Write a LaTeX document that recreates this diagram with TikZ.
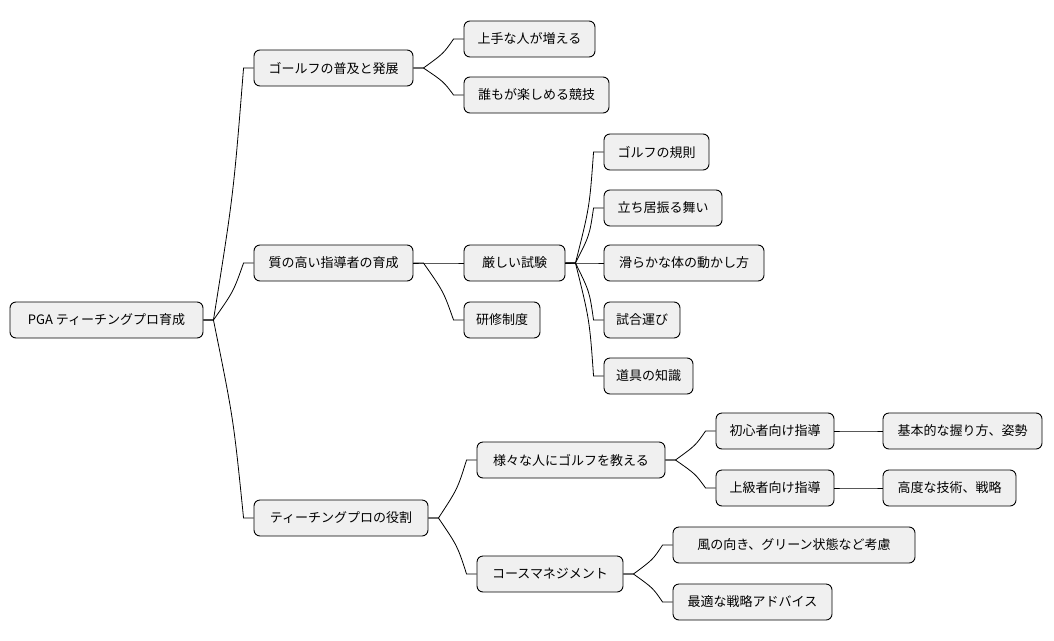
\documentclass[tikz,border=0pt]{standalone}
\usepackage{fontspec}
\setmainfont{Noto Sans CJK JP}
\begin{document}
\begin{tikzpicture}[x=1pt,y=-1pt,
  box/.style={draw=black,line width=0.9pt,fill=black!6,rounded corners=6pt,minimum height=36pt,inner xsep=0pt,font=\fontsize{13}{15}\selectfont,anchor=center},
  con/.style={draw=black,line width=0.8pt}]
\useasboundingbox (0,0) rectangle (1054,640);
\newcommand{\bx}[5]{\node[box,minimum width=#4pt] (#1) at (#2,#3) {#5};}
\bx{r}{106.5}{320}{193}{PGA ティーチングプロ育成}
\bx{a}{333.5}{68}{159}{ゴールフの普及と発展}
\bx{a1}{529.5}{39}{131}{上手な人が増える}
\bx{a2}{536.5}{95}{145}{誰もが楽しめる競技}
\bx{b}{333.5}{263}{159}{質の高い指導者の育成}
\bx{b1}{514.5}{263}{101}{厳しい試験}
\bx{b2}{502}{320}{76}{研修制度}
\bx{c1}{656.5}{152}{105}{ゴルフの規則}
\bx{c2}{663}{208}{118}{立ち居振る舞い}
\bx{c3}{684}{263}{160}{滑らかな体の動かし方}
\bx{c4}{642}{320}{76}{試合運び}
\bx{c5}{648.5}{376}{89}{道具の知識}
\bx{d}{341}{518}{174}{ティーチングプロの役割}
\bx{d1}{571}{460}{188}{様々な人にゴルフを教える}
\bx{d2}{550}{574}{146}{コースマネジメント}
\bx{e1}{775}{431}{118}{初心者向け指導}
\bx{e2}{775}{488}{118}{上級者向け指導}
\bx{f1}{962.5}{431}{159}{基本的な握り方、姿勢}
\bx{f2}{949.5}{488}{133}{高度な技術、戦略}
\bx{g1}{794}{545}{242}{風の向き、グリーン状態など考慮}
\bx{g2}{752.5}{602}{159}{最適な戦略アドバイス}
\newcommand{\cn}[2]{\path (#1.east) coordinate (p) (#2.west) coordinate (q);
  \draw[con] (p) -- ++(10,0) .. controls ($(p)!0.5!(q)+(5,0)$ |- p) and ($(p)!0.5!(q)+(5,0)$ |- q) .. ($(q)+(-10,0)$) -- (q);}
\usetikzlibrary{calc}
\cn{r}{a}\cn{r}{b}\cn{r}{d}
\cn{a}{a1}\cn{a}{a2}
\cn{b}{b1}\cn{b}{b2}
\cn{b1}{c1}\cn{b1}{c2}\cn{b1}{c3}\cn{b1}{c4}\cn{b1}{c5}
\cn{d}{d1}\cn{d}{d2}
\cn{d1}{e1}\cn{d1}{e2}
\cn{e1}{f1}\cn{e2}{f2}
\cn{d2}{g1}\cn{d2}{g2}
\end{tikzpicture}
\end{document}
